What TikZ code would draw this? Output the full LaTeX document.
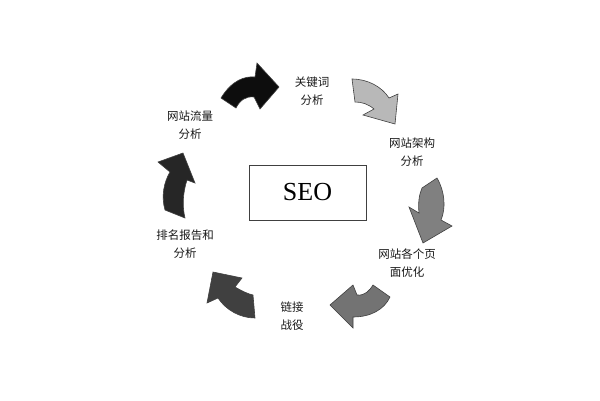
\documentclass[tikz,border=0pt]{standalone}
\usepackage{fontspec}
\setmainfont{Liberation Serif}
\newfontfamily\cjk{Noto Sans CJK SC}
\begin{document}
\begin{tikzpicture}[x=1pt,y=-1pt,
  lbl/.style={font=\cjk\fontsize{11.5}{17.5}\selectfont, align=center, inner sep=0pt, text=black!90},
  carrow/.style={draw=black!75, line width=0.6pt, line join=miter}]
\useasboundingbox (0,0) rectangle (600,400);
\fill[white] (0,0) rectangle (600,400);
% central box
\node[draw=black!75, line width=0.9pt, minimum width=117pt, minimum height=55pt, inner sep=0pt,
      font=\fontsize{26}{30}\selectfont] (seo) at (307.5,192.5) {SEO};
% labels
\node[lbl] (l1) at (312,91) {关键词\\分析};
\node[lbl] (l2) at (412,152) {网站架构\\分析};
\node[lbl] (l3) at (407,263) {网站各个页\\面优化};
\node[lbl] (l4) at (292,316) {链接\\战役};
\node[lbl] (l5) at (185,244) {排名报告和\\分析};
\node[lbl] (l6) at (190,125) {网站流量\\分析};
% curved arrows
% A1 black
\filldraw[carrow, fill=black!95] (221,98) .. controls (232,80) and (245,76) .. (255,77)
  -- (257,63) -- (279,87) -- (260,109) -- (254,97)
  .. controls (246,96) and (240,100) .. (236,108) -- cycle;
% A2 light gray
\filldraw[carrow, fill=black!28] (352,79) .. controls (368,79) and (382,87) .. (389,98)
  -- (398,94) -- (395,124) -- (363,115) -- (374,109)
  .. controls (368,104) and (362,102) .. (355,102) -- cycle;
% A3 gray
\filldraw[carrow, fill=black!50] (437,178) .. controls (445,192) and (446,208) .. (441,220)
  -- (452,226) -- (423,243) -- (409,207) -- (419,213)
  .. controls (418,203) and (419,195) .. (422,188) -- cycle;
% A4 gray
\filldraw[carrow, fill=black!55] (390,297) .. controls (384,310) and (370,317) .. (353,317)
  -- (353,328) -- (330,305) -- (353,285) -- (357,295)
  .. controls (365,296) and (370,290) .. (373,285) -- cycle;
% A5 dark gray
\filldraw[carrow, fill=black!75] (255,318) .. controls (240,318) and (226,310) .. (218,298)
  -- (207,303) -- (213,272) -- (242,278) -- (235,287)
  .. controls (242,291) and (248,294) .. (253,295) -- cycle;
% A6 dark
\filldraw[carrow, fill=black!85] (165,210) .. controls (161,196) and (164,182) .. (170,172)
  -- (158,162) -- (183,153) -- (195,183) -- (187,180)
  .. controls (183,192) and (182,206) .. (185,218) -- cycle;
\end{tikzpicture}
\end{document}
